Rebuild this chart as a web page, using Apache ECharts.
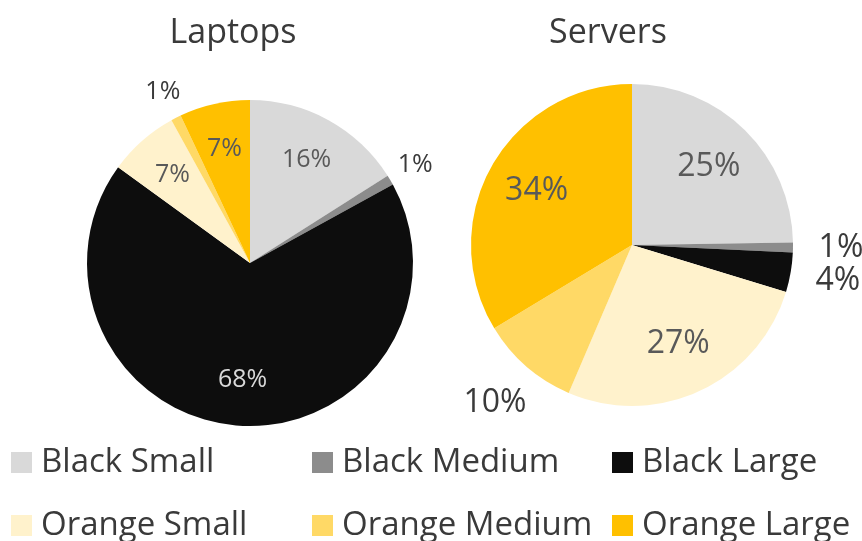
<!DOCTYPE html>
<html>
<head>
<meta charset="utf-8">
<script src="https://cdn.jsdelivr.net/npm/echarts@6/dist/echarts.min.js"></script>
<style>
  html, body { margin: 0; padding: 0; background: #ffffff; }
  #chart { width: 862px; height: 541px; }
</style>
</head>
<body>
<div id="chart"></div>
<script>
// Share of units by colour and size, per product line (percent)
const categories = ['Black Small', 'Black Medium', 'Black Large', 'Orange Small', 'Orange Medium', 'Orange Large'];
const laptopsShare = [16, 1, 68, 7, 1, 7];
const serversShare = [25, 1, 4, 27, 10, 34];
const pieTitles = ['Laptops', 'Servers'];

// Styling
const sliceColors = ['#d9d9d9', '#8c8c8c', '#0d0d0d', '#fff2cc', '#ffd966', '#ffc000'];
const FONT = '"Open Sans", Lato, sans-serif';

// label placement: outside the pie or inside the slice
const laptopsOutside = [false, true, false, false, true, false];
const serversOutside = [false, true, true, false, true, false];

const pies = [
  { name: pieTitles[0], values: laptopsShare, outside: laptopsOutside,
    center: [250, 263], radius: 163, inFrac: 0.72, outGap: 29, fontSize: 25 },
  { name: pieTitles[1], values: serversShare, outside: serversOutside,
    center: [632, 245], radius: 161, inFrac: 0.68, outGap: 48, fontSize: 32 }
];

function labelColor(i, outside) {
  if (outside) return '#3a3a3a';
  if (i === 2) return '#d9d9d9';
  return '#595959';
}

// centre point of a label, from the slice's mid angle (clockwise from 12 o'clock)
function labelPoint(pie, idx) {
  const total = pie.values.reduce((a, b) => a + b, 0);
  let before = 0;
  for (let k = 0; k < idx; k++) before += pie.values[k];
  const mid = (before + pie.values[idx] / 2) / total * Math.PI * 2;
  const d = pie.outside[idx] ? pie.radius + pie.outGap : pie.radius * pie.inFrac;
  return [pie.center[0] + d * Math.sin(mid), pie.center[1] - d * Math.cos(mid)];
}

const series = pies.map((pie) => ({
  type: 'pie',
  name: pie.name,
  center: pie.center,
  radius: pie.radius,
  startAngle: 90,
  clockwise: true,
  animation: false,
  silent: true,
  avoidLabelOverlap: false,
  itemStyle: { borderWidth: 0 },
  label: {
    show: true,
    position: 'inside',
    formatter: '{c}%',
    fontFamily: FONT,
    fontSize: pie.fontSize
  },
  labelLine: { show: false },
  labelLayout: function (params) {
    const p = labelPoint(pie, params.dataIndex);
    return { x: p[0], y: p[1], align: 'center', verticalAlign: 'middle' };
  },
  data: categories.map((c, i) => ({
    name: c,
    value: pie.values[i],
    itemStyle: { color: sliceColors[i] },
    label: { color: labelColor(i, pie.outside[i]) }
  }))
}));

// legend: two rows of three entries, in aligned columns
const legendSlots = [
  { left: 11, top: 446 }, { left: 312, top: 446 }, { left: 612, top: 446 },
  { left: 11, top: 509 }, { left: 312, top: 509 }, { left: 612, top: 509 }
];
const legends = categories.map((c, i) => ({
  data: [c],
  left: legendSlots[i].left,
  top: legendSlots[i].top,
  orient: 'horizontal',
  icon: 'rect',
  itemWidth: 21,
  itemHeight: 21,
  itemGap: 0,
  padding: 0,
  selectedMode: false,
  textStyle: { fontFamily: FONT, fontSize: 33, lineHeight: 33, color: '#3a3a3a', padding: [0, 0, 0, 4] }
}));

const chart = echarts.init(document.getElementById('chart'), null, { renderer: 'canvas' });
chart.setOption({
  backgroundColor: '#ffffff',
  animation: false,
  color: sliceColors,
  title: [
    { text: pieTitles[0], left: 228, top: 11, textAlign: 'center',
      textStyle: { fontFamily: FONT, fontSize: 34, fontWeight: 'normal', color: '#3a3a3a' } },
    { text: pieTitles[1], left: 603, top: 11, textAlign: 'center',
      textStyle: { fontFamily: FONT, fontSize: 34, fontWeight: 'normal', color: '#3a3a3a' } }
  ],
  legend: legends,
  series: series
});
</script>
</body>
</html>
